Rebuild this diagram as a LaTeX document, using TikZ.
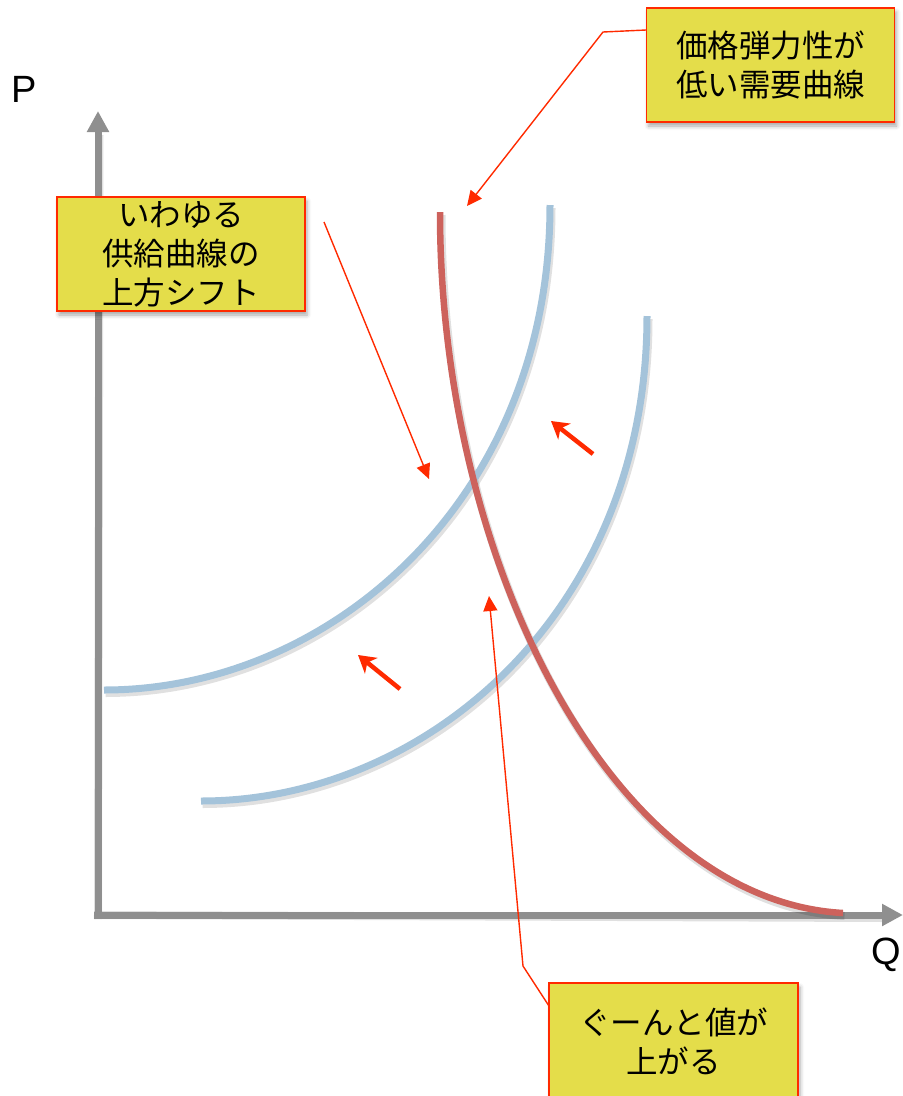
\documentclass[tikz,border=0pt]{standalone}
\usepackage{fontspec}
\setmainfont{Liberation Sans}
\newfontfamily\cjk{Noto Sans CJK JP}
\usetikzlibrary{arrows.meta,shadows.blur}
\definecolor{axisgray}{RGB}{143,143,143}
\definecolor{supplyblue}{RGB}{164,195,218}
\definecolor{demandred}{RGB}{205,98,92}
\definecolor{arrowred}{RGB}{255,42,0}
\definecolor{boxyellow}{RGB}{228,221,74}
\begin{document}
\begin{tikzpicture}[x=1pt,y=-1pt,
  axisline/.style={draw=axisgray,line width=7pt,-{Triangle[length=21pt,width=21pt]}},
  curveshadow/.style={draw=black,opacity=0.12,line width=8pt,shift={(1.5,3)}},
  supply/.style={draw=supplyblue,line width=7pt},
  demand/.style={draw=demandred,line width=6.5pt},
  leader/.style={draw=arrowred,line width=1.4pt,-{Triangle[length=15pt,width=14pt]}},
  fatarrow/.style={draw=arrowred,line width=4.5pt,-{Stealth[length=17pt,width=20pt,inset=5pt]}},
  notebox/.style={draw=arrowred,line width=1.3pt,fill=boxyellow,
    minimum width=248pt,minimum height=114pt,align=center,
    font=\cjk\fontsize{31.5}{39}\selectfont,
    blur shadow={shadow xshift=2pt,shadow yshift=-4pt,shadow blur radius=4pt,shadow opacity=35}},
  axlabel/.style={font=\fontsize{38}{42}\selectfont}]
\useasboundingbox (0,0) rectangle (903,1096);

% axes
\coordinate (yorig) at (98,919);
\coordinate (ytip) at (98,111);
\coordinate (xorig) at (94,915);
\coordinate (xtip) at (903,915);
\draw[curveshadow] (yorig) -- (98,132);
\draw[curveshadow] (xorig) -- (882,915);
\draw[axisline] (yorig) -- (ytip);
\draw[axisline] (xorig) -- (xtip);
\node[axlabel] (P) at (24,89) {P};
\node[axlabel,anchor=west,inner sep=0pt] (Q) at (871,955) {Q};

% supply curves
\draw[curveshadow] (104,690) .. controls (330,690) and (550,500) .. (550,205);
\draw[curveshadow] (201,801) .. controls (427,801) and (647,611) .. (647,316);
\draw[curveshadow] (440,212) .. controls (440,560) and (610,900) .. (843,913);
\draw[supply] (104,690) .. controls (330,690) and (550,500) .. (550,205);
\draw[supply] (201,801) .. controls (427,801) and (647,611) .. (647,316);
% demand curve
\draw[demand] (440,212) .. controls (440,560) and (610,900) .. (843,913);

% shift arrows
\coordinate (s1a) at (593,454);
\coordinate (s1b) at (551,421);
\coordinate (s2a) at (400,689);
\coordinate (s2b) at (358,655);
\draw[fatarrow] (s1a) -- (s1b);
\draw[fatarrow] (s2a) -- (s2b);

% boxes
\node[notebox] (b1) at (770.5,65) {価格弾力性が\\低い需要曲線};
\node[notebox] (b2) at (181,254) {いわゆる\\供給曲線の\\上方シフト};
\node[notebox,minimum height=130pt,minimum width=249pt] (b3box) at (673.5,1048) {};
\node[font=\cjk\fontsize{31.5}{39}\selectfont,align=center] (b3) at (673.5,1041) {ぐーんと値が\\上がる};

% leader lines
\coordinate (l1a) at (646,30);
\coordinate (l1b) at (603,32);
\coordinate (l1t) at (467,206);
\draw[leader] (l1a) -- (l1b) -- (l1t);
\coordinate (l2a) at (324,222);
\coordinate (l2t) at (429,479);
\draw[leader] (l2a) -- (l2t);
\coordinate (l3a) at (549,1006);
\coordinate (l3b) at (523,966);
\coordinate (l3t) at (489,596);
\draw[leader] (l3a) -- (l3b) -- (l3t);
\end{tikzpicture}
\end{document}
